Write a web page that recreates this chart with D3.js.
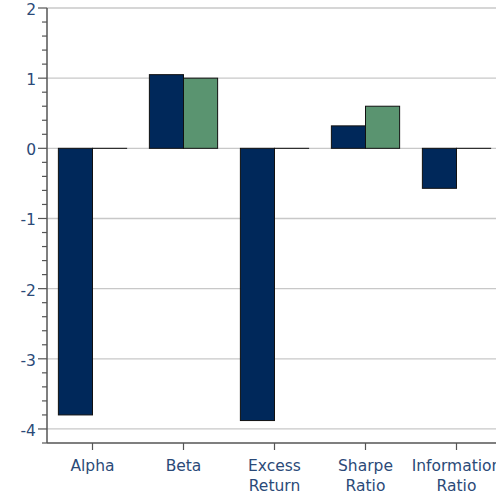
<!DOCTYPE html>
<meta charset="utf-8">
<head>
<title>Risk statistics</title>
<script src="https://d3js.org/d3.v7.min.js"></script>
<style>
  body { margin: 0; background: #fff; }
  .lbl { font-family: "DejaVu Sans", sans-serif; font-size: 15.5px; fill: #2b4a78; }
</style>
</head>
<body>
<div id="chart"></div>
<script>
  // data
  let categories = [["Alpha"], ["Beta"], ["Excess", "Return"], ["Sharpe", "Ratio"], ["Information", "Ratio"]];
  let fundValues = [-3.8, 1.05, -3.88, 0.32, -0.57];
  let benchValues = [0, 1.0, 0, 0.6, 0];
  let yTicks = [2, 1, 0, -1, -2, -3, -4];

  let w = 496, h = 496;
  let padLeft = 47, padTop = 8, axisY = 443;

  let svg = d3.select("#chart").append("svg")
              .attr("width", w)
              .attr("height", h);

  let x = d3.scaleBand()
            .domain(categories.map((d, i) => i))
            .range([padLeft, padLeft + 5 * 91])
            .paddingInner(0.25)
            .paddingOuter(0.125);

  let y = d3.scaleLinear().domain([-4.2, 2]).range([axisY, padTop]);

  // grid lines
  svg.selectAll(".grid")
     .data(yTicks)
     .enter()
     .append("line")
     .attr("x1", padLeft)
     .attr("x2", w)
     .attr("y1", (d) => y(d))
     .attr("y2", (d) => y(d))
     .style("stroke", "#c8c8c8")
     .style("stroke-width", 1.3);

  // bars (zero values still show as a thin outline)
  let half = x.bandwidth() / 2;
  let barH = (d) => Math.max(0.01, Math.abs(y(d) - y(0)));
  svg.selectAll(".fund")
     .data(fundValues)
     .enter()
     .append("rect")
     .attr("x", (d, i) => x(i))
     .attr("y", (d) => y(Math.max(0, d)))
     .attr("width", half)
     .attr("height", barH)
     .style("fill", "#00285a")
     .style("stroke", "#111")
     .style("stroke-width", 1);

  svg.selectAll(".bench")
     .data(benchValues)
     .enter()
     .append("rect")
     .attr("x", (d, i) => x(i) + half)
     .attr("y", (d) => y(Math.max(0, d)))
     .attr("width", half)
     .attr("height", barH)
     .style("fill", "#5a9470")
     .style("stroke", "#111")
     .style("stroke-width", 1);

  // y axis with minor ticks
  let yAxis = svg.append("g").attr("transform", "translate(" + padLeft + ",0)");
  yAxis.append("line")
       .attr("y1", padTop).attr("y2", axisY)
       .style("stroke", "#555").style("stroke-width", 1.5);
  let minor = d3.range(-21, 11).map((k) => k / 5);
  yAxis.selectAll(".minor")
       .data(minor)
       .enter()
       .append("line")
       .attr("x1", (d) => Number.isInteger(Math.round(d * 1000) / 1000) ? -9 : -5)
       .attr("x2", 0)
       .attr("y1", (d) => y(d))
       .attr("y2", (d) => y(d))
       .style("stroke", "#555")
       .style("stroke-width", 1.2);
  yAxis.selectAll(".ylab")
       .data(yTicks)
       .enter()
       .append("text")
       .attr("class", "lbl")
       .attr("x", -11)
       .attr("y", (d) => y(d) + 7)
       .attr("text-anchor", "end")
       .text((d) => d);

  // x axis
  let xAxis = svg.append("g");
  xAxis.append("line")
       .attr("x1", padLeft).attr("x2", w)
       .attr("y1", axisY).attr("y2", axisY)
       .style("stroke", "#555").style("stroke-width", 1.5);
  xAxis.selectAll(".xt")
       .data(categories)
       .enter()
       .append("line")
       .attr("x1", (d, i) => x(i) + half)
       .attr("x2", (d, i) => x(i) + half)
       .attr("y1", axisY)
       .attr("y2", axisY + 7)
       .style("stroke", "#555")
       .style("stroke-width", 1.2);
  xAxis.selectAll(".xlab")
       .data(categories)
       .enter()
       .append("text")
       .attr("class", "lbl")
       .attr("text-anchor", "middle")
       .attr("x", (d, i) => x(i) + half)
       .attr("y", 471)
       .selectAll("tspan")
       .data((d, i) => d.map((t) => [t, i]))
       .enter()
       .append("tspan")
       .attr("x", (d) => x(d[1]) + half)
       .attr("dy", (d, j) => j === 0 ? 0 : 20)
       .text((d) => d[0]);
</script>
</body>
